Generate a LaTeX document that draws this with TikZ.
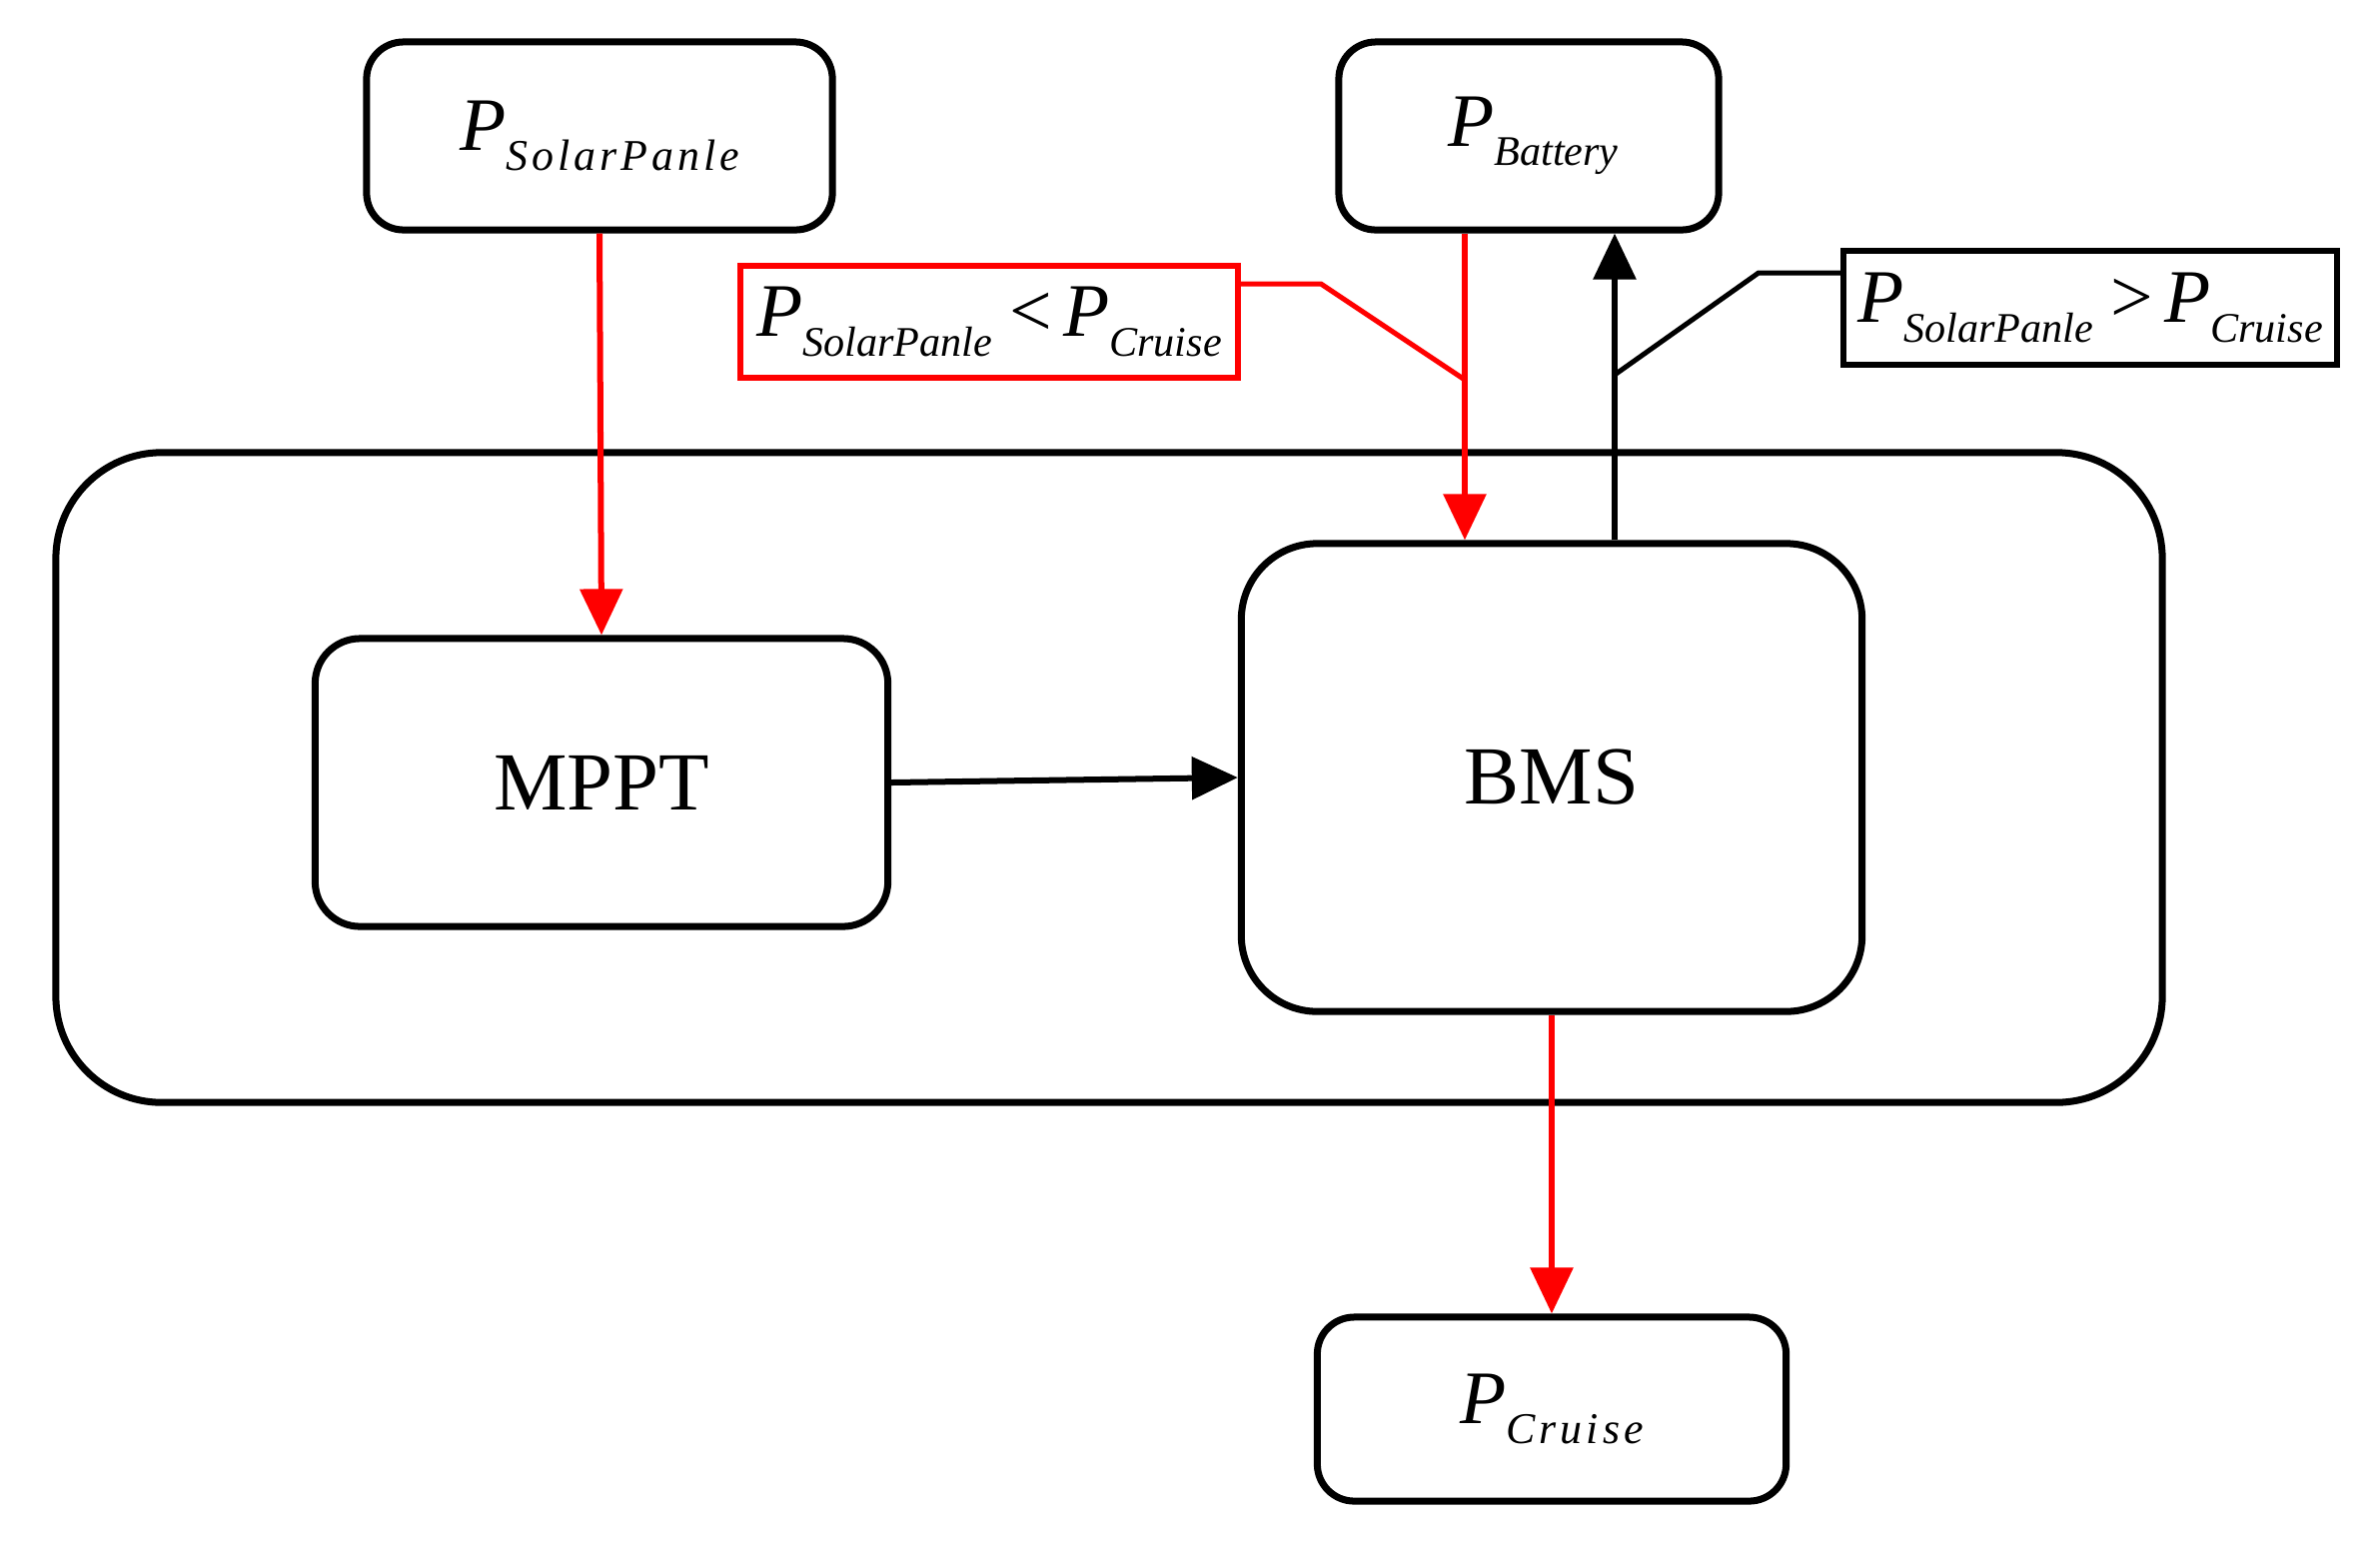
\documentclass[tikz,border=0pt]{standalone}
\usepackage{fontspec}
\setmainfont{Liberation Serif}
\newfontfamily\spacedserif[LetterSpace=9]{Liberation Serif}
\usetikzlibrary{arrows.meta}
\newcommand{\BigP}{{\fontsize{21.5}{24}\selectfont\itshape P}}
\newcommand{\Pspaced}[1]{\BigP\raisebox{-5.5pt}{\spacedserif\fontsize{12.5}{14}\selectfont\itshape #1}}
\newcommand{\Pplain}[1]{\BigP\raisebox{-5.5pt}{\fontsize{12}{14}\selectfont\itshape #1}}
\newcommand{\Rel}[1]{\hspace{5pt}{\fontsize{21.5}{24}\selectfont #1}\hspace{3pt}}
\tikzset{
  blk/.style={draw=black, line width=0.07cm, rounded corners=#1, inner sep=0pt, fill=white},
  blk/.default=0.37cm,
  cond/.style={draw=#1, line width=0.06cm, inner sep=0pt, fill=white},
  flow/.style={line width=0.06cm, -{Triangle[length=0.46cm,width=0.42cm]}},
  lead/.style={line width=0.05cm},
  bigtxt/.style={font=\fontsize{23.5}{26}\selectfont}
}
\begin{document}
\begin{tikzpicture}[x=0.01cm,y=-0.01cm]
\useasboundingbox (0,0) rectangle (2382,1553);
% outer frame
\node[blk=1.06cm, minimum width=21.07cm, minimum height=6.50cm] (frame) at (1110,778) {};
% boxes
\node[blk, minimum width=4.66cm, minimum height=1.88cm] (solar) at (600,136) {\Pspaced{SolarPanle}};
\node[blk, minimum width=3.80cm, minimum height=1.88cm] (battery) at (1530,136) {\hspace{2.5pt}\Pplain{Battery}};
\node[blk, minimum width=4.69cm, minimum height=1.84cm] (cruise) at (1553,1410) {\Pspaced{Cruise}};
\node[blk=0.45cm, minimum width=5.73cm, minimum height=2.88cm, bigtxt] (mppt) at (602,783) {MPPT};
\node[blk=0.76cm, minimum width=6.21cm, minimum height=4.68cm, bigtxt] (bms) at (1553,778) {BMS};
% condition labels
\node[cond=red, minimum width=4.97cm, minimum height=1.12cm] (lt) at (990,322) {\Pplain{SolarPanle}\Rel{<}\Pplain{Cruise}};
\node[cond=black, minimum width=4.93cm, minimum height=1.14cm] (gt) at (2092,308) {\Pplain{SolarPanle}\Rel{>}\Pplain{Cruise}};
% helper coordinates
\coordinate (rx) at (1466,0);
\coordinate (bx) at (1616,0);
\coordinate (rj) at (1466,380);
\coordinate (bj) at (1616,375);
\coordinate (lk) at (1322,284);
\coordinate (gk) at (1760,273);
% flows
\draw[flow, red] (solar.south) -- (mppt.north);
\draw[flow, red] (rx |- battery.south) -- (rx |- bms.north);
\draw[flow, black] (bx |- bms.north) -- (bx |- battery.south);
\draw[flow, black] (mppt.east) -- (bms.west);
\draw[flow, red] (bms.south) -- (cruise.north);
% leaders
\draw[lead, red] (lk -| lt.east) -- (lk) -- (rj);
\draw[lead, black] (gk -| gt.west) -- (gk) -- (bj);
\end{tikzpicture}
\end{document}
